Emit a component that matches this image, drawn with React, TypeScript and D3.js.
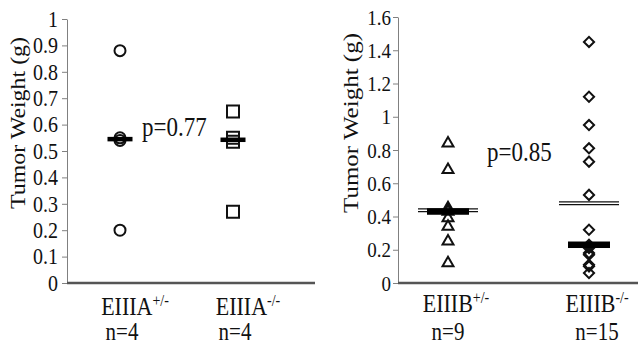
import { useEffect, useRef } from "react";
import * as d3 from "d3";

const W = 638, H = 346;
const SERIF = "Liberation Serif, DejaVu Serif, serif";
const STRETCH = 1.15; // the scan is a bit taller than wide

// left panel: EIIIA
const namesA = ["EIIIA", "EIIIA"];
const supsA = ["+/-", "-/-"];
const countsA = ["n=4", "n=4"];
const shapesA = ["circle", "square"];
const circleVals = [0.88, 0.55, 0.54, 0.2];
const squareVals = [0.65, 0.55, 0.535, 0.27];
const ticksA = [0, 0.1, 0.2, 0.3, 0.4, 0.5, 0.6, 0.7, 0.8, 0.9, 1];
const pTextA = "p=0.77";

// right panel: EIIIB
const namesB = ["EIIIB", "EIIIB"];
const supsB = ["+/-", "-/-"];
const countsB = ["n=9", "n=15"];
const shapesB = ["triangle", "diamond"];
const triangleVals = [0.84, 0.68, 0.45, 0.44, 0.43, 0.39, 0.34, 0.25, 0.12];
const diamondVals = [1.45, 1.12, 0.95, 0.81, 0.73, 0.53, 0.32, 0.23, 0.22, 0.21, 0.18, 0.17, 0.11, 0.1, 0.06];
const ticksB = [0, 0.2, 0.4, 0.6, 0.8, 1, 1.2, 1.4, 1.6];
const pTextB = "p=0.85";

const yTitle = "Tumor Weight (g)";

function markerPath(shape) {
    if (shape === "circle") return d3.symbol(d3.symbolCircle, 95)();
    if (shape === "square") return d3.symbol(d3.symbolSquare, 144)();
    if (shape === "triangle") return d3.symbol(d3.symbolTriangle, 52)();
    return d3.symbol(d3.symbolSquare, 52)();
}

// text placed at (x, y) and stretched vertically like the source image
function stretchedText(g, x, y, size, anchor = "start") {
    return g.append("text")
        .attr("transform", `translate(${x},${y}) scale(1,${STRETCH})`)
        .attr("text-anchor", anchor)
        .style("font-size", size + "px")
        .attr("fill", "#111");
}

function renderPanel(svg, cfg) {
    const y = d3.scaleLinear().domain([0, cfg.max]).range([cfg.bottom, cfg.top]);
    const keys = cfg.names.map((n, i) => n + cfg.sups[i]);
    const x = d3.scalePoint().domain(keys).range(cfg.pointRange);
    const g = svg.append("g").style("font-family", SERIF);

    // y axis
    const ax = g.append("g")
        .attr("transform", `translate(${cfg.left},0)`)
        .call(d3.axisLeft(y)
            .tickValues(cfg.ticks)
            .tickFormat(d3.format("~g"))
            .tickSize(5)
            .tickSizeOuter(0)
            .tickPadding(cfg.tickPad));
    ax.attr("font-family", null).attr("font-size", null);
    ax.select(".domain").attr("stroke", "#808080");
    ax.selectAll(".tick line").attr("stroke", "#808080");
    ax.selectAll(".tick text")
        .style("font-family", SERIF)
        .style("font-size", cfg.tickFont + "px")
        .attr("transform", `scale(1,${STRETCH})`)
        .attr("fill", "#111");

    // x axis
    g.append("line")
        .attr("x1", cfg.left).attr("x2", cfg.right)
        .attr("y1", y(0)).attr("y2", y(0))
        .attr("stroke", "#555").attr("stroke-width", 2.5);

    // points
    cfg.series.forEach((vals, i) => {
        const cx = x(keys[i]);
        const rot = cfg.shapes[i] === "diamond" ? " rotate(45)" : "";
        g.append("g").selectAll("path")
            .data(vals)
            .enter().append("path")
            .attr("d", markerPath(cfg.shapes[i]))
            .attr("transform", d => `translate(${cx},${y(d)})${rot}`)
            .attr("fill", "none")
            .attr("stroke", "#111")
            .attr("stroke-width", 2);

        // mean as double line
        if (cfg.showMean) {
            const m = y(d3.mean(vals));
            [-1.4, 1.4].forEach(off => {
                g.append("line")
                    .attr("x1", cx - cfg.meanW / 2).attr("x2", cx + cfg.meanW / 2)
                    .attr("y1", m + off).attr("y2", m + off)
                    .attr("stroke", "#111").attr("stroke-width", 1.3);
            });
        }

        // median as thick bar
        const md = y(d3.median(vals));
        g.append("rect")
            .attr("x", cx - cfg.barW / 2).attr("y", md - cfg.barH / 2)
            .attr("width", cfg.barW).attr("height", cfg.barH)
            .attr("fill", "#000");

        // category label
        const t = stretchedText(g, cx + cfg.labelDx, cfg.labelY, 22, "middle");
        t.append("tspan").text(cfg.names[i]);
        t.append("tspan").attr("dy", -8).style("font-size", "14px").text(cfg.sups[i]);

        stretchedText(g, cx + cfg.nDx[i], cfg.nY, 21, "middle").text(cfg.counts[i]);
    });

    // y title
    g.append("text")
        .attr("transform", `translate(${cfg.titleX},${cfg.titleY}) rotate(-90)`)
        .attr("text-anchor", "middle")
        .style("font-size", "21px")
        .attr("textLength", cfg.titleLen)
        .attr("lengthAdjust", "spacingAndGlyphs")
        .attr("fill", "#111")
        .text(yTitle);

    // p value
    stretchedText(g, cfg.pX, cfg.pY, 23).text(cfg.pText);
}

const App = () => {
    const ref = useRef(null);

    useEffect(() => {
        const svg = d3.select(ref.current);
        svg.selectAll("*").remove();

        renderPanel(svg, {
            names: namesA, sups: supsA, counts: countsA, shapes: shapesA,
            series: [circleVals, squareVals], ticks: ticksA, pText: pTextA,
            max: 1, left: 67, right: 315, top: 19, bottom: 283,
            pointRange: [120, 233], tickPad: 4, tickFont: 20,
            barW: 25, barH: 4.5, showMean: false, meanW: 0,
            labelDx: 15, labelY: 315, nDx: [2, 2], nY: 340,
            titleX: 25, titleY: 123, titleLen: 172, pX: 142, pY: 136
        });

        renderPanel(svg, {
            names: namesB, sups: supsB, counts: countsB, shapes: shapesB,
            series: [triangleVals, diamondVals], ticks: ticksB, pText: pTextB,
            max: 1.6, left: 398, right: 638, top: 17, bottom: 283,
            pointRange: [448, 589], tickPad: 2, tickFont: 19,
            barW: 42, barH: 6.5, showMean: true, meanW: 60,
            labelDx: 8, labelY: 312, nDx: [0, 8], nY: 340,
            titleX: 358, titleY: 123, titleLen: 180, pX: 487, pY: 161
        });
    }, []);

    return (
        <svg ref={ref} width={W} height={H}
            style={{ position: "absolute", left: 0, top: 0, background: "#fff" }} />
    );
};

export default App;
